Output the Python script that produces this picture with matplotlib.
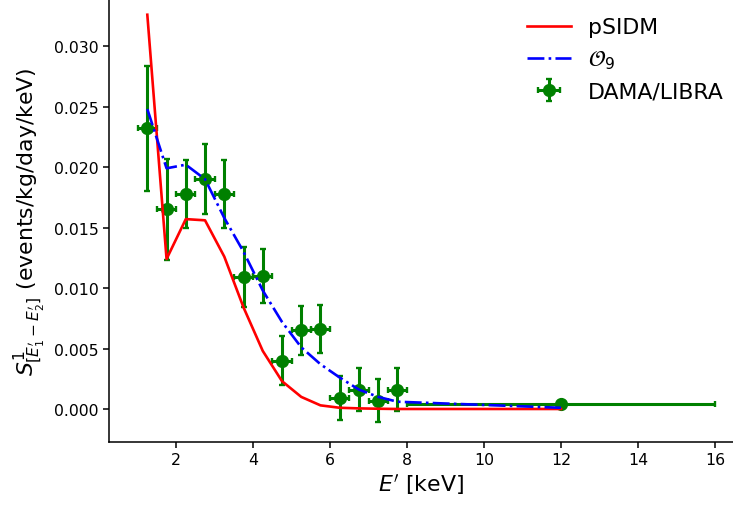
"""DAMA/LIBRA modulation amplitudes vs. pSIDM and O_9 predictions."""

import matplotlib
matplotlib.use("Agg")
import matplotlib.pyplot as plt

# DAMA/LIBRA binned modulation amplitudes
E_DAMA = [1.25, 1.75, 2.25, 2.75, 3.25, 3.75, 4.25, 4.75, 5.25, 5.75,
          6.25, 6.75, 7.25, 7.75, 12.0]
E_DAMA_ERR = [0.25] * 14 + [4.0]
S_DAMA = [0.0232, 0.0165, 0.0178, 0.0190, 0.0178, 0.0109, 0.0110, 0.0040,
          0.0065, 0.0066, 0.0009, 0.0016, 0.0007, 0.0016, 0.0004]
S_DAMA_ERR = [0.0052, 0.0042, 0.0028, 0.0029, 0.0028, 0.0025, 0.0022, 0.0020,
              0.0020, 0.0020, 0.0018, 0.0018, 0.0018, 0.0018, 0.0001]

# model predictions at the bin centres
E_MODEL = [1.25, 1.75, 2.25, 2.75, 3.25, 3.75, 4.25, 4.75, 5.25, 5.75,
           6.25, 6.75, 7.25, 7.75, 12.0]
S_PSIDM = [0.0326, 0.0124, 0.0157, 0.0156, 0.0126, 0.0084, 0.0048, 0.0023,
           0.0010, 0.0003, 0.0001, 0.00005, 0.00002, 0.0, 0.0]
S_O9 = [0.0248, 0.0199, 0.0202, 0.0190, 0.0158, 0.0130, 0.0098, 0.0072,
        0.0051, 0.0037, 0.0026, 0.0016, 0.0010, 0.0006, 0.0001]

fig = plt.figure(figsize=(7.33, 5.06), dpi=100)
ax = fig.add_axes([0.149, 0.1245, 0.851, 0.8755])

ax.errorbar(E_DAMA, S_DAMA, xerr=E_DAMA_ERR, yerr=S_DAMA_ERR, fmt="o",
            color="green", ms=8.5, elinewidth=2.2, capsize=2.2, capthick=1.7,
            label="DAMA/LIBRA", zorder=2)
ax.plot(E_MODEL, S_PSIDM, color="red", lw=1.9, label="pSIDM", zorder=3)
ax.plot(E_MODEL, S_O9, color="blue", lw=1.9, linestyle="-.",
        label=r"$\mathcal{O}_9$", zorder=3)

ax.set_xlim(0.26, 16.47)
ax.set_ylim(-0.00273, 0.0339)
ax.set_xticks(range(2, 17, 2))
ax.set_yticks([0.0, 0.005, 0.010, 0.015, 0.020, 0.025, 0.030])
ax.set_yticklabels([f"{v:.3f}" for v in ax.get_yticks()])
ax.tick_params(labelsize=11.3, width=1.1, length=4)
for side in ("top", "right"):
    ax.spines[side].set_visible(False)
for side in ("left", "bottom"):
    ax.spines[side].set_linewidth(1.1)

ax.set_xlabel(r"$E^{\prime}$ [keV]", fontsize=15.8, labelpad=3)
ax.set_ylabel(r"$S^1_{[E_1^{\prime}-E_2^{\prime}]}$ (events/kg/day/keV)",
              fontsize=15.8, labelpad=5)

handles, labels = ax.get_legend_handles_labels()
order = [labels.index(l) for l in ("pSIDM", r"$\mathcal{O}_9$", "DAMA/LIBRA")]
ax.legend([handles[i] for i in order], [labels[i] for i in order],
          loc="upper right", frameon=False, fontsize=15.8,
          bbox_to_anchor=(1.017, 1.003))

fig.savefig("out.png", dpi=100)
